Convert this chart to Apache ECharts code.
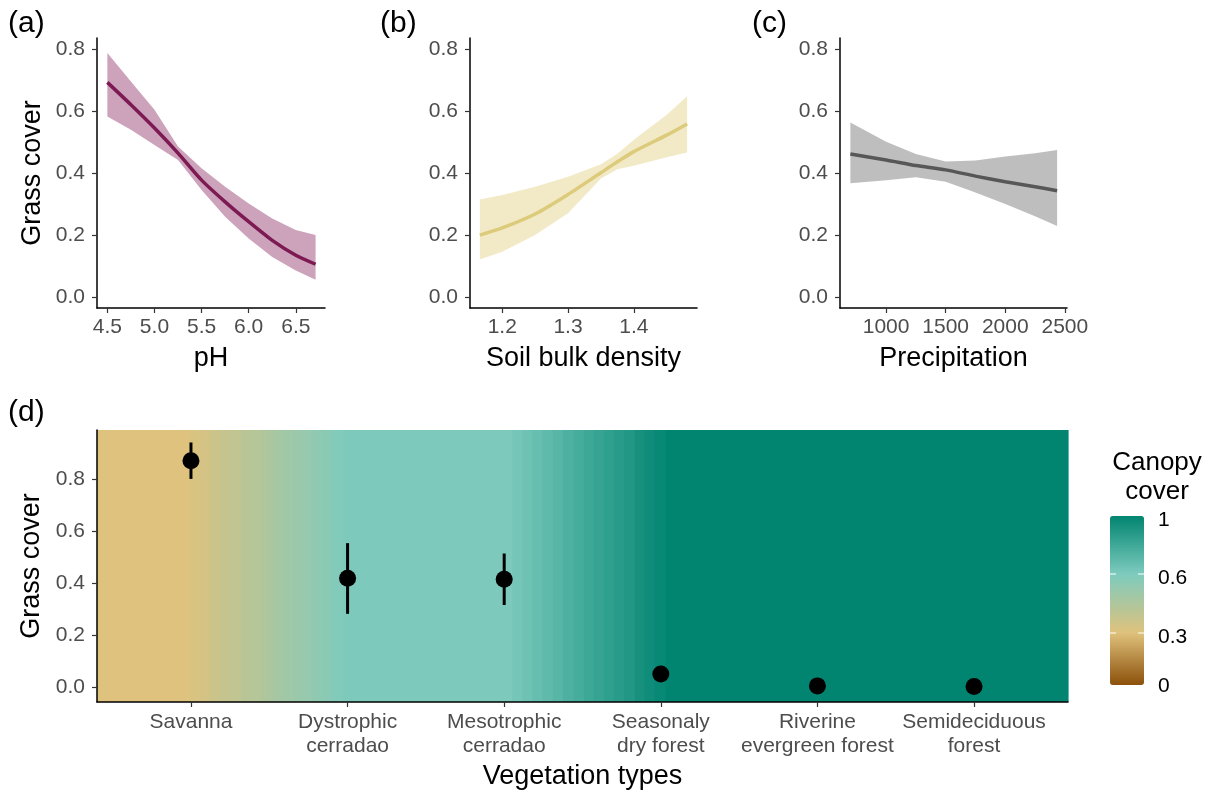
<!DOCTYPE html>
<html lang="en">
<head>
    <meta charset="UTF-8">
    <title>Grass cover</title>
    <script src="https://cdn.jsdelivr.net/npm/echarts@6/dist/echarts.min.js"></script>
    <style>
        html, body { margin: 0; padding: 0; background: #fff; }
        #main { width: 1216px; height: 791px; }
    </style>
</head>
<body>
<div id="main"></div>
<script type="text/javascript">
    // (a) pH
    var phX = [4.5, 4.75, 5.0, 5.25, 5.5, 5.75, 6.0, 6.25, 6.5, 6.71];
    var phFit = [0.692, 0.62, 0.545, 0.464, 0.377, 0.307, 0.243, 0.183, 0.135, 0.106];
    var phLow = [0.582, 0.539, 0.49, 0.442, 0.345, 0.259, 0.189, 0.129, 0.086, 0.056];
    var phHigh = [0.787, 0.695, 0.604, 0.485, 0.415, 0.356, 0.302, 0.253, 0.216, 0.2];
    var phTicks = [4.5, 5.0, 5.5, 6.0, 6.5];

    // (b) soil bulk density
    var bdX = [1.166, 1.2, 1.25, 1.3, 1.35, 1.375, 1.4, 1.45, 1.481];
    var bdFit = [0.2, 0.223, 0.268, 0.331, 0.401, 0.436, 0.469, 0.522, 0.558];
    var bdLow = [0.121, 0.146, 0.2, 0.27, 0.382, 0.412, 0.423, 0.451, 0.466];
    var bdHigh = [0.315, 0.329, 0.356, 0.388, 0.428, 0.462, 0.507, 0.588, 0.647];
    var bdTicks = [1.2, 1.3, 1.4];

    // (c) precipitation
    var prX = [700, 1000, 1250, 1500, 1750, 2000, 2250, 2435];
    var prFit = [0.461, 0.442, 0.424, 0.41, 0.39, 0.372, 0.356, 0.343];
    var prLow = [0.367, 0.377, 0.386, 0.372, 0.337, 0.3, 0.261, 0.229];
    var prHigh = [0.563, 0.501, 0.461, 0.437, 0.44, 0.453, 0.464, 0.474];
    var prTicks = [1000, 1500, 2000, 2500];

    var grassTicks = [0, 0.2, 0.4, 0.6, 0.8];

    // (d) vegetation types
    var vegTypes = ['Savanna', 'Dystrophic\ncerradao', 'Mesotrophic\ncerradao',
        'Seasonaly\ndry forest', 'Riverine\nevergreen forest', 'Semideciduous\nforest'];
    var grassMean = [0.87, 0.418, 0.414, 0.05, 0.004, 0.002];
    var grassLow = [0.80, 0.281, 0.315, 0.05, 0.004, 0.002];
    var grassHigh = [0.94, 0.553, 0.513, 0.05, 0.004, 0.002];

    // canopy cover background (left edge of each stripe, last stripe ends at 6.6)
    var bgLeft = [0.4, 0.99, 1.055, 1.12, 1.185, 1.25, 1.315, 1.38, 1.445, 1.51, 1.575, 1.64, 1.705, 1.77, 1.835, 1.9,
        1.97, 3.05, 3.115, 3.18, 3.245, 3.31, 3.375, 3.44, 3.505, 3.57, 3.635, 3.7, 3.765, 3.83, 3.895, 3.96, 4.03];
    var bgCanopy = [0.31, 0.33, 0.35, 0.38, 0.40, 0.42, 0.44, 0.46, 0.48, 0.51, 0.53, 0.55, 0.57, 0.59, 0.61, 0.64,
        0.657, 0.68, 0.70, 0.72, 0.74, 0.76, 0.79, 0.81, 0.83, 0.85, 0.87, 0.89, 0.91, 0.94, 0.96, 0.98, 1.0];

    var canopyStops = [0, 0.31, 0.657, 1];
    var canopyColors = ['#8C510A', '#DFC27D', '#7DCBBE', '#018571'];

    var FONT = '"Liberation Sans", Arial, sans-serif';
    var TICK_FS = 21, TITLE_FS = 27;

    // colour ramp with uneven stops for the visualMap
    function hexToRgb(h) {
        return [parseInt(h.substr(1, 2), 16), parseInt(h.substr(3, 2), 16), parseInt(h.substr(5, 2), 16)];
    }
    function ramp(n) {
        var out = [];
        for (var i = 0; i <= n; i++) {
            var t = i / n, k = 0;
            while (k < canopyStops.length - 2 && t > canopyStops[k + 1]) k++;
            var f = (t - canopyStops[k]) / (canopyStops[k + 1] - canopyStops[k]);
            var a = hexToRgb(canopyColors[k]), b = hexToRgb(canopyColors[k + 1]);
            out.push('rgb(' + a.map(function (v, j) { return Math.round(v + (b[j] - v) * f); }).join(',') + ')');
        }
        return out;
    }

    function xAxisFor(idx, min, max, ticks, name, fmt) {
        return {
            type: 'value', gridIndex: idx, min: min, max: max,
            name: name, nameLocation: 'middle', nameGap: 37,
            nameTextStyle: { fontSize: TITLE_FS, color: '#000', fontFamily: FONT },
            axisLine: { onZero: false, lineStyle: { color: '#000', width: 1.5 } },
            axisTick: { customValues: ticks, length: 5, lineStyle: { color: '#333', width: 1.2 } },
            axisLabel: { customValues: ticks, formatter: fmt, fontSize: TICK_FS, color: '#4D4D4D', fontFamily: FONT, margin: 9 },
            splitLine: { show: false }
        };
    }
    function yAxisFor(idx, min, max, name) {
        return {
            type: 'value', gridIndex: idx, min: min, max: max,
            name: name, nameLocation: 'middle', nameGap: 51, nameRotate: 90,
            nameTextStyle: { fontSize: TITLE_FS, color: '#000', fontFamily: FONT },
            axisLine: { show: true, onZero: false, lineStyle: { color: '#000', width: 1.5 } },
            axisTick: { show: true, customValues: grassTicks, length: 5, lineStyle: { color: '#333', width: 1.2 } },
            axisLabel: {
                customValues: grassTicks, fontSize: TICK_FS, color: '#4D4D4D', fontFamily: FONT, margin: 12,
                formatter: function (v) { return v.toFixed(1); }
            },
            splitLine: { show: false }
        };
    }

    function band(idx, xs, lo, hi, color) {
        return {
            type: 'custom', xAxisIndex: idx, yAxisIndex: idx, silent: true, z: 1,
            data: xs.map(function (x, i) { return [x, lo[i], hi[i]]; }),
            renderItem: function (params, api) {
                if (params.dataIndex !== 0) return;
                var pts = [];
                for (var i = 0; i < xs.length; i++) pts.push(api.coord([xs[i], hi[i]]));
                for (var j = xs.length - 1; j >= 0; j--) pts.push(api.coord([xs[j], lo[j]]));
                return { type: 'polygon', shape: { points: pts }, style: { fill: color } };
            }
        };
    }
    function fitLine(idx, xs, ys, color) {
        return {
            type: 'line', xAxisIndex: idx, yAxisIndex: idx, silent: true, z: 2,
            data: xs.map(function (x, i) { return [x, ys[i]]; }),
            smooth: 0.25, showSymbol: false,
            lineStyle: { color: color, width: 3.5 }
        };
    }

    var fmt1 = function (v) { return v.toFixed(1); };
    var D_YMIN = -0.058, D_YMAX = 0.988;

    function txt(x, y, s, size, extra) {
        var st = { text: s, font: size + 'px ' + FONT, fill: '#000' };
        for (var k in extra) st[k] = extra[k];
        return { type: 'text', x: x, y: y, style: st, z: 100 };
    }
    function whiteTick(x, y) {
        return { type: 'line', shape: { x1: x, y1: y, x2: x + 6, y2: y }, style: { stroke: '#fff', lineWidth: 1 }, z: 100 };
    }

    var chart = echarts.init(document.getElementById('main'));
    chart.setOption({
        animation: false,
        grid: [
            { left: 97, top: 38, width: 228, height: 270 },
            { left: 470, top: 38, width: 227, height: 270 },
            { left: 840, top: 38, width: 227, height: 270 },
            { left: 97, top: 430, width: 971, height: 272 }
        ],
        xAxis: [
            xAxisFor(0, 4.39, 6.81, phTicks, 'pH', fmt1),
            xAxisFor(1, 1.151, 1.496, bdTicks, 'Soil bulk density', fmt1),
            xAxisFor(2, 613, 2518, prTicks, 'Precipitation', function (v) { return String(v); }),
            (function () {
                var ax = xAxisFor(3, 0.4, 6.6, [1, 2, 3, 4, 5, 6], 'Vegetation types',
                    function (v) { return vegTypes[Math.round(v) - 1]; });
                ax.nameGap = 61;
                ax.axisLabel.lineHeight = 24;
                ax.axisLabel.margin = 8;
                return ax;
            })()
        ],
        yAxis: [
            yAxisFor(0, -0.035, 0.835, 'Grass cover'),
            yAxisFor(1, -0.035, 0.835, ''),
            yAxisFor(2, -0.035, 0.835, ''),
            yAxisFor(3, D_YMIN, D_YMAX, 'Grass cover')
        ],
        visualMap: {
            type: 'continuous', min: 0, max: 1, dimension: 2, seriesIndex: 6,
            left: 1110, top: 516, itemWidth: 34, itemHeight: 169, padding: 0,
            calculable: false, text: null, showLabel: false, hoverLink: false,
            inRange: { color: ramp(100) }
        },
        graphic: [
            txt(8, 9, '(a)', 30),
            txt(380, 9, '(b)', 30),
            txt(752, 9, '(c)', 30),
            txt(8, 398, '(d)', 30),
            txt(1157, 448, 'Canopy\ncover', 26, { textAlign: 'center', lineHeight: 29 }),
            txt(1158, 520, '1', TICK_FS, { textVerticalAlign: 'middle' }),
            txt(1158, 578, '0.6', TICK_FS, { textVerticalAlign: 'middle' }),
            txt(1158, 637, '0.3', TICK_FS, { textVerticalAlign: 'middle' }),
            txt(1158, 686, '0', TICK_FS, { textVerticalAlign: 'middle' }),
            whiteTick(1110, 574), whiteTick(1138, 574),
            whiteTick(1110, 633), whiteTick(1138, 633)
        ],
        series: [
            band(0, phX, phLow, phHigh, '#CCA3BB'),
            fitLine(0, phX, phFit, '#7D1A54'),
            band(1, bdX, bdLow, bdHigh, '#F2EAC7'),
            fitLine(1, bdX, bdFit, '#DCCB7A'),
            band(2, prX, prLow, prHigh, '#BEBEBE'),
            fitLine(2, prX, prFit, '#575757'),
            {
                // canopy cover background stripes
                type: 'custom', xAxisIndex: 3, yAxisIndex: 3, silent: true, z: 0,
                data: bgLeft.map(function (x, i) {
                    return [x, i < bgLeft.length - 1 ? bgLeft[i + 1] : 6.6, bgCanopy[i]];
                }),
                encode: { x: [0, 1] },
                renderItem: function (params, api) {
                    var p0 = api.coord([api.value(0), D_YMAX]);
                    var p1 = api.coord([api.value(1), D_YMIN]);
                    return {
                        type: 'rect',
                        shape: { x: p0[0], y: p0[1], width: p1[0] - p0[0] + 0.6, height: p1[1] - p0[1] },
                        style: { fill: api.visual('color') }
                    };
                }
            },
            {
                // error bars
                type: 'custom', xAxisIndex: 3, yAxisIndex: 3, silent: true, z: 3,
                data: vegTypes.map(function (v, i) { return [i + 1, grassLow[i], grassHigh[i]]; }),
                renderItem: function (params, api) {
                    var a = api.coord([api.value(0), api.value(1)]);
                    var b = api.coord([api.value(0), api.value(2)]);
                    return { type: 'line', shape: { x1: a[0], y1: a[1], x2: b[0], y2: b[1] }, style: { stroke: '#000', lineWidth: 3 } };
                }
            },
            {
                type: 'scatter', xAxisIndex: 3, yAxisIndex: 3, silent: true, z: 4,
                symbolSize: 17, itemStyle: { color: '#000', opacity: 1 },
                data: vegTypes.map(function (v, i) { return [i + 1, grassMean[i]]; })
            }
        ]
    });
</script>
</body>
</html>
